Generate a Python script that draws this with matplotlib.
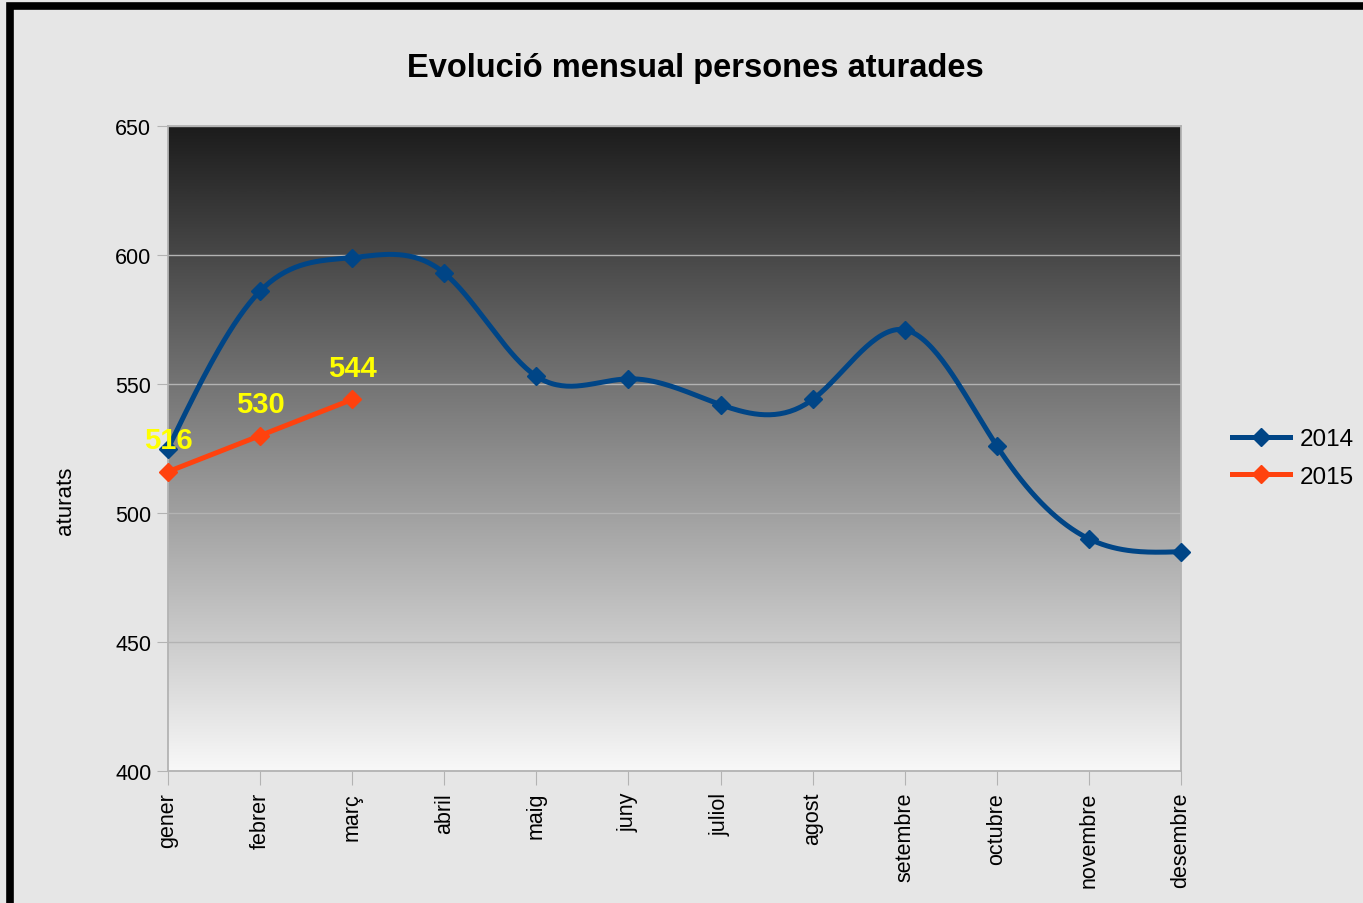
import numpy as np
import matplotlib
matplotlib.use('Agg')
import matplotlib.pyplot as plt
from matplotlib.patches import Rectangle

plt.rcParams['font.family'] = ['Liberation Sans', 'DejaVu Sans']

months = ['gener', 'febrer', 'març', 'abril', 'maig', 'juny', 'juliol',
          'agost', 'setembre', 'octubre', 'novembre', 'desembre']
vals_2014 = [525, 586, 599, 593, 553, 552, 542, 544, 571, 526, 490, 485]
vals_2015 = [516, 530, 544]

BLUE = '#004586'
ORANGE = '#ff420e'


def natural_spline(x, y, n=400):
    # natural cubic spline, like the office suite "cubic spline" lines
    x = np.asarray(x, float)
    y = np.asarray(y, float)
    k = len(x)
    h = np.diff(x)
    A = np.zeros((k, k))
    b = np.zeros(k)
    A[0, 0] = A[-1, -1] = 1
    for i in range(1, k - 1):
        A[i, i - 1] = h[i - 1]
        A[i, i] = 2 * (h[i - 1] + h[i])
        A[i, i + 1] = h[i]
        b[i] = 6 * ((y[i + 1] - y[i]) / h[i] - (y[i] - y[i - 1]) / h[i - 1])
    M = np.linalg.solve(A, b)
    xs = np.linspace(x[0], x[-1], n)
    idx = np.clip(np.searchsorted(x, xs) - 1, 0, k - 2)
    x0, x1 = x[idx], x[idx + 1]
    hh = x1 - x0
    t0 = x1 - xs
    t1 = xs - x0
    ys = (M[idx] * t0 ** 3 / (6 * hh) + M[idx + 1] * t1 ** 3 / (6 * hh)
          + (y[idx] / hh - M[idx] * hh / 6) * t0
          + (y[idx + 1] / hh - M[idx + 1] * hh / 6) * t1)
    return xs, ys


fig = plt.figure(figsize=(13.63, 9.04), dpi=100)
fig.patch.set_facecolor('#e6e6e6')
fig.patches.append(Rectangle((10 / 1363, -0.01), 1.05, 1 - 6.5 / 904 + 0.01,
                             transform=fig.transFigure, fill=False,
                             edgecolor='black', linewidth=5.5))

ax = fig.add_axes([168 / 1363, 1 - 772 / 904, (1181 - 168) / 1363, (772 - 127) / 904])
x = np.arange(len(months))

# gradient background of the plot area, dark at the top
grad = np.linspace(0, 1, 256).reshape(-1, 1)
cmap = matplotlib.colors.LinearSegmentedColormap.from_list('g', ['#1c1c1c', '#f8f8f8'])
ax.imshow(grad, cmap=cmap, aspect='auto', extent=(0, 11, 400, 650),
          origin='upper', zorder=0, interpolation='bicubic')

ax.set_xlim(0, 11)
ax.set_ylim(400, 650)
ax.set_yticks([400, 450, 500, 550, 600, 650])
ax.set_xticks(x)
ax.set_xticklabels(months, rotation=90, fontsize=15.5)
ax.tick_params(axis='y', labelsize=15.5, length=8, color='#b3b3b3', pad=4)
ax.tick_params(axis='x', length=10, color='#b3b3b3', pad=5)
ax.grid(axis='y', color='#b3b3b3', linewidth=1, zorder=1)
for s in ax.spines.values():
    s.set_color('#b3b3b3')
    s.set_linewidth(1.3)

xs, ys = natural_spline(x, vals_2014)
ax.plot(xs, ys, color=BLUE, linewidth=3.6, zorder=3, clip_on=False)
ax.plot(x, vals_2014, linestyle='none', marker='D', markersize=9,
        color=BLUE, zorder=4, clip_on=False)
ax.plot([], [], color=BLUE, linewidth=3.6, marker='D', markersize=9, label='2014')

ax.plot(x[:3], vals_2015, color=ORANGE, linewidth=3.6, marker='D', markersize=9,
        zorder=5, clip_on=False, label='2015')
for xi, v in zip(x[:3], vals_2015):
    ax.annotate(str(v), (xi, v), xytext=(0, 22.5), textcoords='offset points',
                ha='center', va='center', color='#ffff00', fontsize=21,
                fontweight='bold', zorder=6)

fig.text(66 / 1363, 1 - 501 / 904, 'aturats', rotation=90, ha='center',
         va='center', fontsize=16)
fig.text(695 / 1363, 1 - 68 / 904, 'Evolució mensual persones aturades',
         ha='center', va='center', fontsize=23.5, fontweight='bold')

leg = ax.legend(loc='center left', bbox_to_anchor=(1232 / 1363, 1 - 459 / 904),
                bbox_transform=fig.transFigure, frameon=False, borderpad=0,
                borderaxespad=0, fontsize=17.5, handlelength=2.4,
                handletextpad=0.4, labelspacing=0.62)

fig.savefig('out.png', dpi=100, facecolor=fig.get_facecolor())
